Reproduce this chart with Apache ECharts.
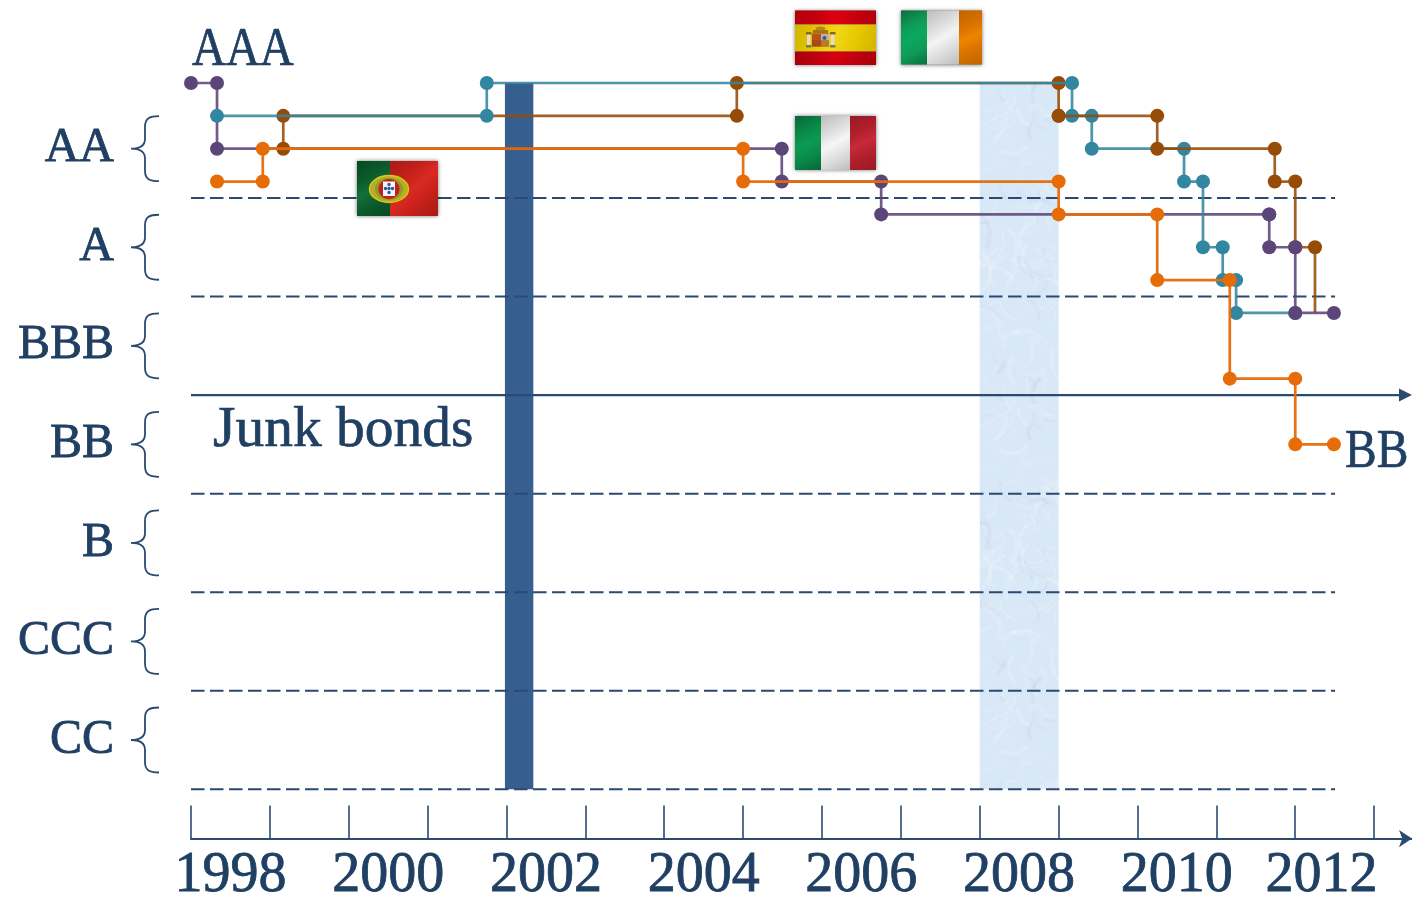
<!DOCTYPE html>
<html>
<head>
<meta charset="utf-8">
<style>html,body{margin:0;padding:0;background:#fff}#c{width:1412px;height:898px}</style>
<script src="https://cdn.jsdelivr.net/npm/echarts@6/dist/echarts.min.js"></script>
</head>
<body>
<div id="c"></div>
<script>
// Year axis bands
const years = ['1998','1999','2000','2001','2002','2003','2004','2005','2006','2007','2008','2009','2010','2011','2012'];
// Rating notches: 0 = AAA, 2 = AA, 5 = A ...
const ratingNotches = [2, 5, 8, 11, 14, 17, 20];
const ratingLabels = ['AA', 'A', 'BBB', 'BB', 'B', 'CCC', 'CC'];
const dashedLevels = [3.5, 6.5, 12.5, 15.5, 18.5, 21.5];
const junkLevel = 9.5;
// Shaded periods [start, end]
const darkBand = [2001.98, 2002.34];
const paleBand = [2008.0, 2009.0];
// Rating histories [time, notch]
const italyEarly = [[1998,0],[1998.33,0],[1998.33,2],[2005.49,2],[2005.49,3],[2006.75,3],[2006.75,4],[2011.67,4]];
const italyLate = [[2011.67,4],[2011.67,5],[2012,5],[2012,7],[2012.49,7]];
const spainEarly = [[1999.17,2],[1999.17,1],[2004.92,1],[2004.92,0],[2009,0],[2009,1]];
const spainLate = [[2009,1],[2010.25,1],[2010.25,2],[2011.74,2],[2011.74,3],[2012,3],[2012,5],[2012.25,5],[2012.25,7]];
const ireland = [[1998.33,1],[2001.75,1],[2001.75,0],[2009.17,0],[2009.17,1],[2009.42,1],[2009.42,2],[2010.59,2],[2010.59,3],[2010.83,3],[2010.83,5],[2011.08,5],[2011.08,6],[2011.25,6],[2011.25,7],[2012,7]];
const portugal = [[1998.33,3],[1998.91,3],[1998.91,2],[2005,2],[2005,3],[2009,3],[2009,4],[2010.25,4],[2010.25,6],[2011.17,6],[2011.17,9],[2012,9],[2012,11],[2012.49,11]];

const INK = '#1f3f63', LINE = '#2a4a70';
const FONT = '"Liberation Serif", serif';
const PURPLE = '#5c4679', BROWN = '#964b06', TEAL = '#33869f', ORANGE = '#e66c07';
const X0 = 1998, XEND = 2013.48, DASH_END = 2012.505, GRID_L = 191, GRID_T = 17.3, GRID_H = 821.25;
const DOT = 14;

// Mottled paper-like fill texture for the pale period (decoration only)
function paleTexture() {
  const size = 300, cv = document.createElement('canvas');
  cv.width = cv.height = size;
  const g = cv.getContext('2d');
  g.fillStyle = '#d9e8f7';
  g.fillRect(0, 0, size, size);
  let s = 12345;
  const next = () => (s = (s * 1103515245 + 12345) % 2147483648) / 2147483648;
  g.lineCap = 'round';
  for (let i = 0; i < 600; i++) {
    const x = next()*size, y = next()*size, a = next()*6.28, l = 8 + next()*26;
    const white = i % 5 !== 0;
    g.strokeStyle = white ? 'rgba(255,255,255,' + (.05 + next()*.12) + ')' : 'rgba(170,175,215,' + (.04 + next()*.08) + ')';
    g.lineWidth = 1.5 + next()*3;
    g.beginPath();
    g.moveTo(x, y);
    g.quadraticCurveTo(x + Math.cos(a+.6)*l*.6, y + Math.sin(a+.6)*l*.6, x + Math.cos(a)*l, y + Math.sin(a)*l);
    g.stroke();
  }
  return cv;
}
const paleFill = { image: paleTexture(), repeat: 'repeat' };

function history(name, data, color, z, opts) {
  return Object.assign({
    name, type: 'line', data, z, clip: false, xAxisIndex: 0, yAxisIndex: 0,
    showAllSymbol: true, symbol: 'circle', symbolSize: DOT, silent: true,
    itemStyle: { color, opacity: 1 },
    lineStyle: { color, width: 2.7, opacity: 0.88 }
  }, opts || {});
}

function band(x, y, w, h, base, light, dark) {
  return { type: 'rect', z: 50, shape: { x, y, width: w, height: h }, style: { fill: {
    type: 'linear', x: 0, y: 0, x2: 1, y2: 1,
    colorStops: [{offset:0,color:dark},{offset:.3,color:base},{offset:.5,color:light},{offset:.72,color:base},{offset:1,color:dark}]
  } } };
}
function shadow(x, y, w, h) {
  return { type:'rect', z:49, shape:{x,y,width:w,height:h}, style:{fill:'#888', shadowBlur:4, shadowColor:'rgba(0,0,0,.55)'} };
}
function rect(x, y, w, h, fill) {
  return { type:'rect', z:51, shape:{x,y,width:w,height:h}, style:{fill} };
}
function ell(cx, cy, rx, ry, fill, stroke, lw) {
  return { type:'ellipse', z:51, shape:{cx,cy,rx,ry}, style:{fill, stroke:stroke||null, lineWidth:lw||0} };
}
function txt(x, y, text, size, sx) {
  return { type:'text', z:60, x, y, scaleX:sx||1,
    style:{ text, fill:INK, font: size+'px '+FONT, align:'left', verticalAlign:'middle', stroke:INK, lineWidth:.7 } };
}
const flags = [
  // Portugal
  shadow(357,161,81,55),
  band(357,161,33,55,'#0b5a2a','#14703a','#064a22'),
  band(390,161,48,55,'#c4201a','#d92a22','#a81a16'),
  ell(389,189,19.5,13.5,'#b8ae22','#d8c81e',1.4),
  ell(389,189,14,11,'#8f9a2a'),
  ell(389,189,10.5,10,'#c4201a'),
  rect(383,181.5,12,14.5,'#f6f6f6'),
  ell(389,184.5,1.7,1.7,'#2f5a9a'), ell(389,188.5,1.7,1.7,'#2f5a9a'), ell(389,192.5,1.7,1.7,'#2f5a9a'),
  ell(385.5,188.5,1.7,1.7,'#2f5a9a'), ell(392.5,188.5,1.7,1.7,'#2f5a9a'),
  // Spain
  shadow(795,10.5,81,54.5),
  band(795,10.5,81,14,'#c8000f','#dc0010','#b0000c'),
  band(795,24.5,81,27,'#e8c800','#efd818','#d0b400'),
  band(795,51.5,81,13.5,'#c2000f','#d40010','#a8000a'),
  rect(812,33.5,17,13,'#b5541a'), rect(821,34,8,6.5,'#c8a8b0'), rect(812,40,9,6.5,'#a84a18'), rect(821,40.5,8,6,'#b87a20'),
  ell(824.5,38,2,2,'#3a5a8a'),
  rect(813,30,15,3.5,'#a8701c'), ell(820.5,28.5,5,2,'#b08a20'),
  rect(807,34,3.5,11,'#e4dcc4'), rect(831,34,3.5,11,'#e4dcc4'),
  rect(806,32,5.5,2.5,'#8a6a20'), rect(830,32,5.5,2.5,'#8a6a20'),
  rect(806,45,5.5,2.5,'#7a7a50'), rect(830,45,5.5,2.5,'#7a7a50'),
  // Ireland
  shadow(901,10.5,81,54),
  band(901,10.5,26,54,'#0e9c58','#0ba860','#0a6e40'),
  band(927,10.5,32,54,'#dcdcdc','#f4f4f4','#bdbdbd'),
  band(959,10.5,23,54,'#d87200','#f08400','#c06400'),
  // Italy
  shadow(795,116,81,54),
  band(795,116,26,54,'#0a8a48','#0c9a50','#07663a'),
  band(821,116,29,54,'#dedede','#f6f6f6','#bcbcbc'),
  band(850,116,26,54,'#b01f2c','#c8293a','#961a26'),
  // Text notes
  txt(192,51,'AAA',54,.87),
  txt(213,431,'Junk bonds',57.5),
  txt(1345,453,'BB',54,.88)
];

const option = {
  animation: false,
  backgroundColor: '#fff',
  grid: [
    { left: GRID_L, right: 0, top: GRID_T, height: GRID_H, outerBoundsMode: 'none' },
    { left: GRID_L, width: 1183, top: GRID_T, height: GRID_H, outerBoundsMode: 'none' }
  ],
  xAxis: [
    { type:'value', gridIndex:0, min:X0, max:XEND, position:'bottom', scale:true,
      axisLine:{ show:true, onZero:false, symbol:['none','arrow'], symbolSize:[13,13], symbolOffset:[0,0], lineStyle:{color:LINE,width:2.2} },
      axisTick:{show:false}, axisLabel:{show:false}, splitLine:{show:false} },
    { type:'category', gridIndex:1, data:years, boundaryGap:true, position:'bottom',
      axisLine:{ show:false },
      axisTick:{ show:true, inside:true, length:33, interval:0, lineStyle:{color:LINE,width:1.6} },
      axisLabel:{ interval:1, margin:11, color:INK, fontFamily:FONT, fontSize:56, lineHeight:54, hideOverlap:false,
        textBorderColor:INK, textBorderWidth:.8,
        formatter:(v)=> v==='2012' ? '{last|'+v+'}' : v,
        rich:{ last:{ color:INK, fontFamily:FONT, fontSize:56, textBorderColor:INK, textBorderWidth:.8, padding:[0,26,0,0] } } },
      splitLine:{show:false} }
  ],
  yAxis: [
    { type:'value', gridIndex:0, inverse:true, min:-2, max:23, interval:1,
      axisLine:{show:false}, axisTick:{show:false}, splitLine:{show:false},
      axisLabel:{ show:true, margin:77, color:INK, fontFamily:FONT, fontSize:48, padding:[5,0,0,0],
        textBorderColor:INK, textBorderWidth:.8,
        formatter:(v)=>{ const i=ratingNotches.indexOf(v); return i<0?'':ratingLabels[i]; } } },
    { type:'value', gridIndex:1, show:false, min:0, max:1 }
  ],
  graphic: { elements: flags },
  series: [
    { name:'shaded periods', type:'custom', z:1, silent:true, clip:false, xAxisIndex:0, yAxisIndex:0,
      data:[darkBand, paleBand],
      renderItem:(p,api)=>{
        const a=api.coord([api.value(0),0]), b=api.coord([api.value(1),21.5]);
        return { type:'rect', shape:{x:a[0],y:a[1],width:b[0]-a[0],height:b[1]-a[1]}, style:{fill:p.dataIndex===0?'#365f8f':paleFill} };
      } },
    { name:'rating boundaries', type:'custom', z:2, silent:true, clip:false, xAxisIndex:0, yAxisIndex:0,
      data:dashedLevels.map(v=>[v]),
      renderItem:(p,api)=>{
        const a=api.coord([X0,api.value(0)]), b=api.coord([DASH_END,api.value(0)]);
        return { type:'line', shape:{x1:a[0],y1:a[1],x2:b[0],y2:b[1]}, style:{stroke:LINE,lineWidth:2,lineDash:[13.5,5.5],fill:null} };
      } },
    { name:'junk boundary', type:'custom', z:2, silent:true, clip:false, xAxisIndex:0, yAxisIndex:0,
      data:[[junkLevel]],
      renderItem:(p,api)=>{
        const a=api.coord([X0,api.value(0)]), b=api.coord([XEND,api.value(0)]);
        return { type:'group', children:[
          { type:'line', shape:{x1:a[0],y1:a[1],x2:b[0]-8,y2:b[1]}, style:{stroke:LINE,lineWidth:2.4,fill:null} },
          { type:'polygon', shape:{points:[[b[0],b[1]],[b[0]-13,b[1]-6.5],[b[0]-13,b[1]+6.5]]}, style:{fill:LINE} }
        ]};
      } },
    { name:'rating braces', type:'custom', z:2, silent:true, clip:false, xAxisIndex:0, yAxisIndex:0,
      data:ratingNotches.map(v=>[v]),
      renderItem:(p,api)=>{
        const c=api.coord([X0,api.value(0)]), y=c[1], x=c[0]-32;
        const d=`M ${x} ${y-32.5} C ${x-10} ${y-32.5} ${x-14} ${y-30} ${x-14} ${y-22} L ${x-14} ${y-10} C ${x-14} ${y-3} ${x-20} ${y} ${x-28} ${y} C ${x-20} ${y} ${x-14} ${y+3} ${x-14} ${y+10} L ${x-14} ${y+22} C ${x-14} ${y+30} ${x-10} ${y+32.5} ${x} ${y+32.5}`;
        return { type:'path', shape:{pathData:d}, style:{fill:'none',stroke:LINE,lineWidth:1.8} };
      } },
    history('Italy', italyEarly, PURPLE, 3),
    history('Spain', spainEarly, BROWN, 4),
    history('Ireland', ireland, TEAL, 5),
    history('Spain later', spainLate, BROWN, 6, { symbolSize:(v,p)=> p.dataIndex===spainLate.length-1?0:DOT }),
    history('Italy later', italyLate, PURPLE, 7),
    history('Portugal', portugal, ORANGE, 8, { lineStyle:{color:ORANGE,width:2.7,opacity:0.95} })
  ]
};
echarts.init(document.getElementById('c')).setOption(option);
</script>
</body>
</html>
